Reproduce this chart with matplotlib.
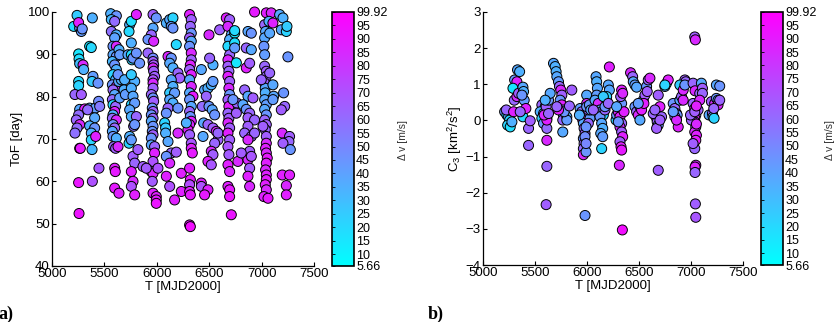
import numpy as np
import matplotlib
matplotlib.use('Agg')
import matplotlib.pyplot as plt

# ---------------- data: panel a) (T [MJD2000], ToF [day], dv [m/s]) ----------------
a_c1 = [(5239,99.2,25),(5207,96.6,18),(5264,96.2,45),(5280,95.4,42),(5254,97.5,88),(5289,96.0,45),
        (5254,90.1,15),(5258,88.9,18),(5264,87.8,30),(5296,87.5,85),(5302,86.4,35),(5254,83.6,20),
        (5254,82.6,22),(5219,80.5,62),(5280,80.5,66),(5264,77.0,38),(5312,77.1,88),(5254,75.7,60),
        (5232,74.5,62),(5264,73.4,85),(5239,72.6,60),(5219,71.4,58),(5264,67.8,88),(5270,67.8,90),
        (5254,59.7,92),(5258,52.4,93)]
a_c2 = [(5385,98.6,35),(5359,91.9,15),(5375,91.6,20),(5391,84.8,42),(5382,83.6,25),(5439,83.2,45),
        (5359,77.3,35),(5413,77.3,42),(5445,78.9,48),(5455,77.7,55),(5407,75.0,38),(5359,73.1,35),
        (5407,72.6,45),(5375,71.4,35),(5375,69.8,22),(5382,67.5,32),(5417,70.6,88),(5448,63.1,68),
        (5385,60.0,70),(5340,76.9,60)]
a_c3 = [(5560,99.6,35),(5614,99.1,45),(5566,98.2,32),(5598,97.8,60),(5566,95.4,58),(5614,94.6,35),
        (5598,93.9,40),(5582,91.9,45),(5614,91.9,85),(5582,89.9,38),(5614,89.5,45),(5576,88.3,32),
        (5598,87.5,45),(5614,86.4,35),(5582,85.2,22),(5607,84.0,35),(5576,82.8,45),(5614,82.4,85),
        (5582,81.6,62),(5598,80.5,38),(5576,79.3,60),(5582,78.1,20),(5607,77.7,62),(5598,76.5,88),
        (5582,75.7,35),(5576,74.9,60),(5614,74.5,85),(5582,73.4,45),(5598,72.6,62),(5576,71.8,38),
        (5582,70.6,45),(5614,70.2,35),(5588,68.2,62),(5607,67.8,65),(5598,63.1,88),(5604,62.3,90),
        (5598,58.4,90),(5639,57.2,88),(5639,91.1,35),(5646,89.9,42),(5636,83.6,38),(5661,84.0,35),
        (5630,85.2,45),(5646,79.7,40),(5693,84.0,35),(5687,81.6,35),(5700,80.5,42),(5630,68.2,85)]
a_c4 = [(5741,97.0,35),(5735,95.4,20),(5757,97.8,18),(5805,99.4,88),(5757,92.7,35),(5725,89.9,38),
        (5757,89.9,18),(5763,88.7,22),(5773,89.1,45),(5805,90.3,45),(5789,83.6,35),(5757,85.2,25),
        (5757,82.0,35),(5773,80.1,38),(5757,78.1,22),(5789,78.5,42),(5741,76.9,38),(5757,75.3,35),
        (5805,75.3,62),(5741,70.6,35),(5735,69.0,22),(5757,69.8,42),(5779,73.0,58),(5789,73.4,45),
        (5773,65.9,65),(5789,64.3,62),(5757,62.3,88),(5773,60.0,85),(5757,58.8,70),(5789,56.8,88),
        (5820,67.5,66),(5868,63.5,65),(5836,87.9,45)]
a_c5 = [(5964,99.4,65),(5995,98.6,45),(5964,96.2,38),(5948,94.6,62),(5916,93.5,45),(5970,93.1,85),
        (5916,90.3,62),(5964,89.1,48),(5964,88.3,65),(5970,87.5,68),(5964,86.8,85),(5970,86.0,65),
        (5979,84.8,65),(5964,84.0,68),(5964,83.2,85),(5964,82.0,65),(5948,80.5,62),(5964,79.7,45),
        (5970,78.9,65),(5957,77.3,45),(5964,76.5,65),(5948,75.7,45),(5964,74.9,62),(5948,74.2,38),
        (5964,73.0,45),(5957,71.8,45),(5964,71.0,65),(5948,70.2,45),(5948,68.6,38),(5979,68.2,62),
        (5979,66.7,88),(5964,64.7,70),(5948,62.3,68),(5964,61.9,85),(5957,60.0,66),(5964,57.2,88),
        (5995,56.4,88),(5995,55.6,90),(5995,54.8,92),(6011,63.1,70),(5900,63.1,66)]
a_c6 = [(6091,97.4,35),(6138,97.0,45),(6123,98.2,38),(6154,98.6,22),(6138,96.6,42),(6154,96.2,45),
        (6186,92.3,20),(6107,89.5,85),(6138,89.1,45),(6123,87.9,38),(6154,86.8,35),(6202,85.6,62),
        (6218,84.4,65),(6138,84.0,38),(6154,82.4,35),(6123,80.9,25),(6170,80.9,42),(6123,79.3,38),
        (6154,78.5,35),(6107,77.3,62),(6202,77.3,45),(6091,76.1,45),(6075,73.8,22),(6084,72.6,25),
        (6084,71.4,35),(6107,69.4,38),(6138,66.7,62),(6091,65.9,45),(6123,64.3,85),(6091,61.2,88),
        (6123,58.8,70),(6170,55.6,88),(6186,66.9,65),(6202,71.4,85),(6234,61.9,88),(6234,57.6,88)]
a_c7 = [(6313,99.4,88),(6329,98.2,65),(6320,96.6,62),(6329,95.0,45),(6313,93.9,65),(6329,93.1,38),
        (6313,91.9,45),(6329,90.3,85),(6329,88.7,65),(6320,87.5,88),(6313,86.4,65),(6329,85.2,88),
        (6313,84.0,38),(6329,82.4,85),(6313,80.9,38),(6345,80.1,90),(6313,79.3,45),(6329,77.7,38),
        (6313,76.5,62),(6320,75.3,45),(6329,74.2,88),(6313,73.4,85),(6297,72.2,88),(6313,71.0,65),
        (6329,69.0,68),(6329,67.8,88),(6339,66.7,90),(6313,63.1,88),(6320,60.4,90),(6313,59.2,72),
        (6313,57.6,88),(6320,56.8,90),(6313,49.7,92),(6320,49.3,95),(6282,73.8,35)]
a_c8 = [(6498,94.6,85),(6425,86.4,38),(6536,87.5,35),(6504,89.1,62),(6456,81.6,38),(6488,82.0,35),
        (6520,82.8,35),(6536,83.6,42),(6472,80.1,62),(6434,77.7,60),(6498,77.7,45),(6529,76.9,38),
        (6552,75.7,45),(6447,73.8,38),(6488,73.4,62),(6536,72.6,65),(6568,71.8,85),(6584,69.8,65),
        (6552,69.0,62),(6441,70.6,38),(6520,67.1,85),(6536,66.3,65),(6488,64.7,88),(6520,63.9,68),
        (6425,59.6,88),(6425,58.8,70),(6488,58.0,88),(6456,56.8,90),(6600,95.8,65),(6584,71.4,62)]
a_c9 = [(6663,98.6,88),(6695,98.2,65),(6679,96.6,85),(6711,94.6,38),(6695,93.5,35),(6679,91.9,20),
        (6695,89.9,62),(6679,88.7,85),(6679,87.2,65),(6688,86.0,62),(6679,84.8,88),(6695,83.6,65),
        (6688,82.0,85),(6695,80.5,45),(6679,79.3,65),(6688,77.7,88),(6679,76.1,62),(6688,74.9,65),
        (6679,73.8,85),(6695,72.6,65),(6679,71.4,88),(6695,69.8,65),(6679,68.2,68),(6688,66.3,66),
        (6679,63.9,88),(6695,62.3,85),(6679,58.8,88),(6695,58.0,90),(6695,56.4,92),(6711,52.1,92),
        (6743,95.0,15),(6743,92.7,18),(6759,88.0,15),(6743,95.6,20),(6743,91.5,42),(6765,78.5,62),
        (6759,76.1,65),(6774,64.7,85),(6727,79.3,45)]
a_c10 = [(6933,100.0,90),(6870,95.4,38),(6902,95.0,45),(6854,91.5,62),(6902,91.1,38),(6854,86.8,88),
         (6886,87.9,65),(6838,81.6,62),(6870,80.1,38),(6918,79.7,65),(6822,78.1,38),(6854,77.0,45),
         (6886,76.1,62),(6870,75.0,65),(6933,74.5,62),(6870,73.0,65),(6838,71.4,62),(6902,70.6,65),
         (6933,71.4,62),(6870,69.8,85),(6886,67.1,65),(6870,65.1,85),(6902,65.9,68),(6886,63.1,66),
         (6870,61.2,88),(6886,58.8,85),(6806,66.7,66)]
a_c11 = [(7045,99.8,88),(7092,99.8,85),(7029,97.0,62),(7038,95.4,38),(7029,93.9,38),(7022,91.9,45),
         (7029,89.9,42),(7029,87.2,62),(7045,86.0,65),(7045,84.8,62),(7029,83.2,65),(7035,82.0,38),
         (7035,80.9,35),(7029,79.3,38),(7045,78.1,42),(7029,77.0,38),(7045,75.7,45),(7029,74.5,62),
         (7045,73.4,65),(7035,72.2,62),(7045,70.6,65),(7045,69.0,85),(7038,67.8,88),(7045,66.7,85),
         (7054,65.5,90),(7045,64.3,88),(7038,62.7,85),(7045,61.5,88),(7045,60.4,90),(7035,59.2,88),
         (7045,58.0,85),(7022,56.4,88),(7061,56.0,90),(7013,73.0,65),(6997,84.0,62),(7077,95.0,38),
         (7070,97.8,35),(7108,82.8,38),(7115,80.1,38),(7108,79.3,42),(7108,97.4,88),(7077,85.6,62)]
a_c12 = [(7172,99.4,38),(7204,98.6,35),(7188,95.8,38),(7236,95.4,22),(7242,96.6,25),(7251,89.4,45),
         (7210,80.9,45),(7220,77.7,62),(7188,76.9,65),(7197,71.4,85),(7267,70.6,65),(7261,69.4,62),
         (7204,69.0,65),(7274,67.5,45),(7197,61.5,88),(7267,61.5,88),(7236,59.0,85),(7236,56.8,88)]

# ---------------- data: panel b) (T [MJD2000], C3 [km^2/s^2], dv [m/s]) ----------------
b_c1 = [(5208,0.24,45),(5230,0.15,18),(5246,0.10,35),(5256,0.01,20),(5237,-0.13,22),(5262,-0.18,18),
        (5224,0.29,62),(5294,0.24,88),(5278,-0.04,35),(5304,1.12,45),(5332,1.40,38),(5352,1.35,35),
        (5326,1.07,88),(5288,0.89,15),(5301,0.56,62),(5326,0.66,85),(5342,0.75,65),(5384,0.92,38),
        (5390,0.80,35),(5396,0.56,42),(5384,0.10,20),(5412,0.33,88),(5438,-0.22,62),(5454,-0.01,65),
        (5438,-0.69,62),(5358,0.24,62),(5374,0.70,45)]
b_c2 = [(5566,0.43,62),(5598,0.38,38),(5550,0.24,35),(5582,0.19,42),(5566,0.06,22),(5614,0.06,38),
        (5582,-0.08,45),(5614,-0.22,60),(5607,0.38,65),(5630,0.56,45),(5646,0.75,38),(5614,0.01,88),
        (5614,-0.55,85),(5614,-1.27,62),(5607,-2.33,65),(5588,0.15,85),(5630,0.19,62),(5598,0.56,35),
        (5678,1.58,38),(5694,1.49,35),(5703,1.35,35),(5710,1.21,38),(5726,1.07,42),(5735,0.94,62),
        (5748,0.84,85),(5758,0.70,65),(5742,0.56,45),(5758,0.43,88),(5767,0.29,62),(5774,0.15,22),
        (5767,0.01,62),(5767,-0.32,38),(5806,0.10,35),(5806,0.01,42),(5780,0.24,45),(5726,0.29,88),
        (5710,0.38,62),(5854,0.84,65),(5831,0.40,62)]
b_c3 = [(5934,0.33,42),(5950,0.24,62),(5965,0.15,85),(5981,0.06,62),(5959,0.01,88),(5965,-0.08,38),
        (5972,-0.22,62),(5981,-0.36,65),(5965,-0.50,45),(5972,-0.64,62),(5965,-0.78,60),(5965,-0.95,85),
        (5991,-0.87,45),(5997,0.70,38),(5997,0.47,85),(5927,0.15,35),(6029,0.06,42),(6013,0.29,62),
        (5981,-2.63,45),(5997,0.38,45),(6013,-0.08,62),(6023,0.43,45),(6036,0.29,38),(5991,-0.18,45),
        (5981,-0.45,48),(5991,-0.64,50)]
b_c4 = [(6087,1.21,38),(6093,1.07,35),(6100,0.89,38),(6093,0.70,42),(6077,0.56,38),(6109,0.47,85),
        (6125,0.29,38),(6141,0.24,42),(6157,0.15,22),(6125,0.10,45),(6141,-0.08,38),(6151,-0.22,35),
        (6132,-0.36,38),(6151,-0.45,42),(6141,-0.78,22),(6173,0.29,62),(6189,0.56,65),(6205,0.98,38),
        (6215,0.84,38),(6189,0.66,22),(6157,0.66,25),(6215,1.48,88),(6173,0.38,45),(6205,0.47,62),
        (6061,0.29,62)]
b_c5 = [(6279,0.01,22),(6285,0.15,45),(6301,0.24,85),(6317,0.38,62),(6333,0.47,45),(6333,0.84,88),
        (6324,0.66,65),(6317,0.10,88),(6333,-0.08,62),(6317,-0.18,85),(6333,-0.32,65),(6343,-0.45,88),
        (6317,-0.59,65),(6327,-0.73,88),(6333,-0.82,90),(6311,-1.24,85),(6340,-3.03,95),(6301,-0.04,45),
        (6356,0.24,88),(6285,0.38,38),(6343,0.75,85)]
b_c6 = [(6419,1.32,85),(6439,1.21,62),(6445,1.07,38),(6461,0.98,42),(6477,0.92,38),(6461,0.38,45),
        (6477,0.24,62),(6493,0.15,85),(6509,0.38,65),(6509,0.01,38),(6541,0.56,45),(6525,0.29,88),
        (6557,0.70,65),(6573,0.94,45),(6589,1.12,62),(6605,1.17,85),(6579,0.80,65),(6547,0.47,88),
        (6493,0.47,42)]
b_c7 = [(6653,0.15,62),(6669,0.06,85),(6675,-0.04,62),(6685,-0.13,45),(6669,-0.22,65),(6637,0.19,62),
        (6701,0.38,88),(6685,0.70,65),(6685,-1.38,65),(6749,0.94,38),(6765,1.03,20),(6781,1.12,88),
        (6749,0.98,22),(6717,0.10,62),(6701,0.01,65),(6653,0.29,62)]
b_c8 = [(6829,0.47,45),(6845,0.33,62),(6861,0.19,65),(6867,0.15,45),(6877,-0.18,88),(6893,0.56,38),
        (6909,0.66,62),(6925,0.56,85),(6941,1.12,65),(6950,1.07,62),(6893,0.98,25),(6925,0.84,85),
        (6941,0.98,45),(6845,0.10,62),(6861,0.01,85),(6829,0.24,42)]
b_c9 = [(7036,2.31,65),(7042,2.23,85),(7020,1.03,62),(7039,0.82,85),(7020,0.47,62),(7036,0.33,85),
        (7046,0.15,65),(7036,0.06,88),(7036,-0.04,62),(7046,-0.18,65),(7036,-0.32,85),(7052,-0.41,88),
        (7046,-0.55,90),(7036,-0.78,62),(7004,0.01,65),(6995,0.15,62),(7068,0.29,65),(7046,-1.24,85),
        (7039,-1.29,88),(7039,-1.44,62),(7042,-2.31,65),(7046,-2.68,68),(7084,0.75,62),(7100,1.03,38),
        (7110,0.89,65),(7110,0.75,62),(7084,0.56,85),(7020,-0.64,65),(7052,-0.10,85),(7036,0.24,65),
        (7052,0.40,88)]
b_c10 = [(7174,0.15,38),(7206,0.19,62),(7212,0.10,35),(7222,0.06,22),(7196,0.52,65),(7228,0.47,85),
         (7244,0.61,45),(7260,0.56,38),(7260,0.43,85),(7276,0.56,62),(7244,0.98,38),(7276,0.95,45),
         (7219,0.33,62)]

dv_min, dv_max = 5.66, 99.92
cbar_ticks = [5.66, 10, 15, 20, 25, 30, 35, 40, 45, 50, 55, 60, 65, 70, 75, 80, 85, 90, 95, 99.92]
cbar_labels = ['5.66', '10', '15', '20', '25', '30', '35', '40', '45', '50', '55', '60', '65',
               '70', '75', '80', '85', '90', '95', '99.92']
x_ticks = [5000, 5500, 6000, 6500, 7000, 7500]
ya_ticks = [40, 50, 60, 70, 80, 90, 100]
yb_ticks = [-4, -3, -2, -1, 0, 1, 2, 3]

A = np.array(a_c1 + a_c2 + a_c3 + a_c4 + a_c5 + a_c6 + a_c7 + a_c8 + a_c9 + a_c10 + a_c11 + a_c12, float)
B = np.array(b_c1 + b_c2 + b_c3 + b_c4 + b_c5 + b_c6 + b_c7 + b_c8 + b_c9 + b_c10, float)

plt.rcParams['font.family'] = ['Liberation Sans', 'DejaVu Sans']
plt.rcParams['mathtext.default'] = 'regular'

W, H = 840, 322
fig = plt.figure(figsize=(W / 100, H / 100), dpi=100)

def box(x0, y0, x1, y1):
    return [x0 / W, 1 - y1 / H, (x1 - x0) / W, (y1 - y0) / H]

axa = fig.add_axes(box(52, 12, 314, 266))
caxa = fig.add_axes(box(332, 12, 354, 266))
axb = fig.add_axes(box(483, 12, 743, 265))
caxb = fig.add_axes(box(761, 12, 783, 265))

FS = 9.5

def style(ax, yticks, ylim):
    ax.set_xlim(5000, 7500)
    ax.set_ylim(*ylim)
    ax.set_xticks(x_ticks)
    ax.set_yticks(yticks)
    for s in ['top', 'right']:
        ax.spines[s].set_visible(False)
    for s in ['left', 'bottom']:
        ax.spines[s].set_linewidth(0.9)
    ax.tick_params(direction='in', length=3, width=0.8, labelsize=FS, pad=1.5)

def cbar(sc, cax, xlab):
    cb = fig.colorbar(sc, cax=cax, ticks=cbar_ticks)
    cb.ax.set_yticklabels(cbar_labels)
    cb.ax.tick_params(direction='in', length=2.5, width=0.6, labelsize=9, pad=1.5,
                      left=True, right=False)
    cb.outline.set_linewidth(1.2)
    fig.text(xlab / W, 1 - 140 / H, u'\u0394 v [m/s]', rotation=90, ha='center', va='center',
             fontsize=7.5, color='#333333')

sca = axa.scatter(A[:, 0], A[:, 1], c=A[:, 2], cmap='cool', vmin=dv_min, vmax=dv_max,
                  s=52, edgecolors='black', linewidths=0.7, clip_on=False, zorder=3)
style(axa, ya_ticks, (40, 100))
axa.set_xlabel('T [MJD2000]', fontsize=FS, labelpad=1)
axa.set_ylabel('ToF [day]', fontsize=FS, labelpad=3)
cbar(sca, caxa, 403)

scb = axb.scatter(B[:, 0], B[:, 1], c=B[:, 2], cmap='cool', vmin=dv_min, vmax=dv_max,
                  s=52, edgecolors='black', linewidths=0.7, clip_on=False, zorder=3)
style(axb, yb_ticks, (-4, 3))
axb.set_xlabel('T [MJD2000]', fontsize=FS, labelpad=1)
axb.set_ylabel('C$_3$ [km$^2$/s$^2$]', fontsize=FS, labelpad=1)
cbar(scb, caxb, 830)

fig.text(-2 / W, 3 / H, 'a)', fontsize=13, fontweight='bold', family='Liberation Serif',
         ha='left', va='baseline')
fig.text(428 / W, 3 / H, 'b)', fontsize=13, fontweight='bold', family='Liberation Serif',
         ha='left', va='baseline')

fig.savefig('out.png', dpi=100)
